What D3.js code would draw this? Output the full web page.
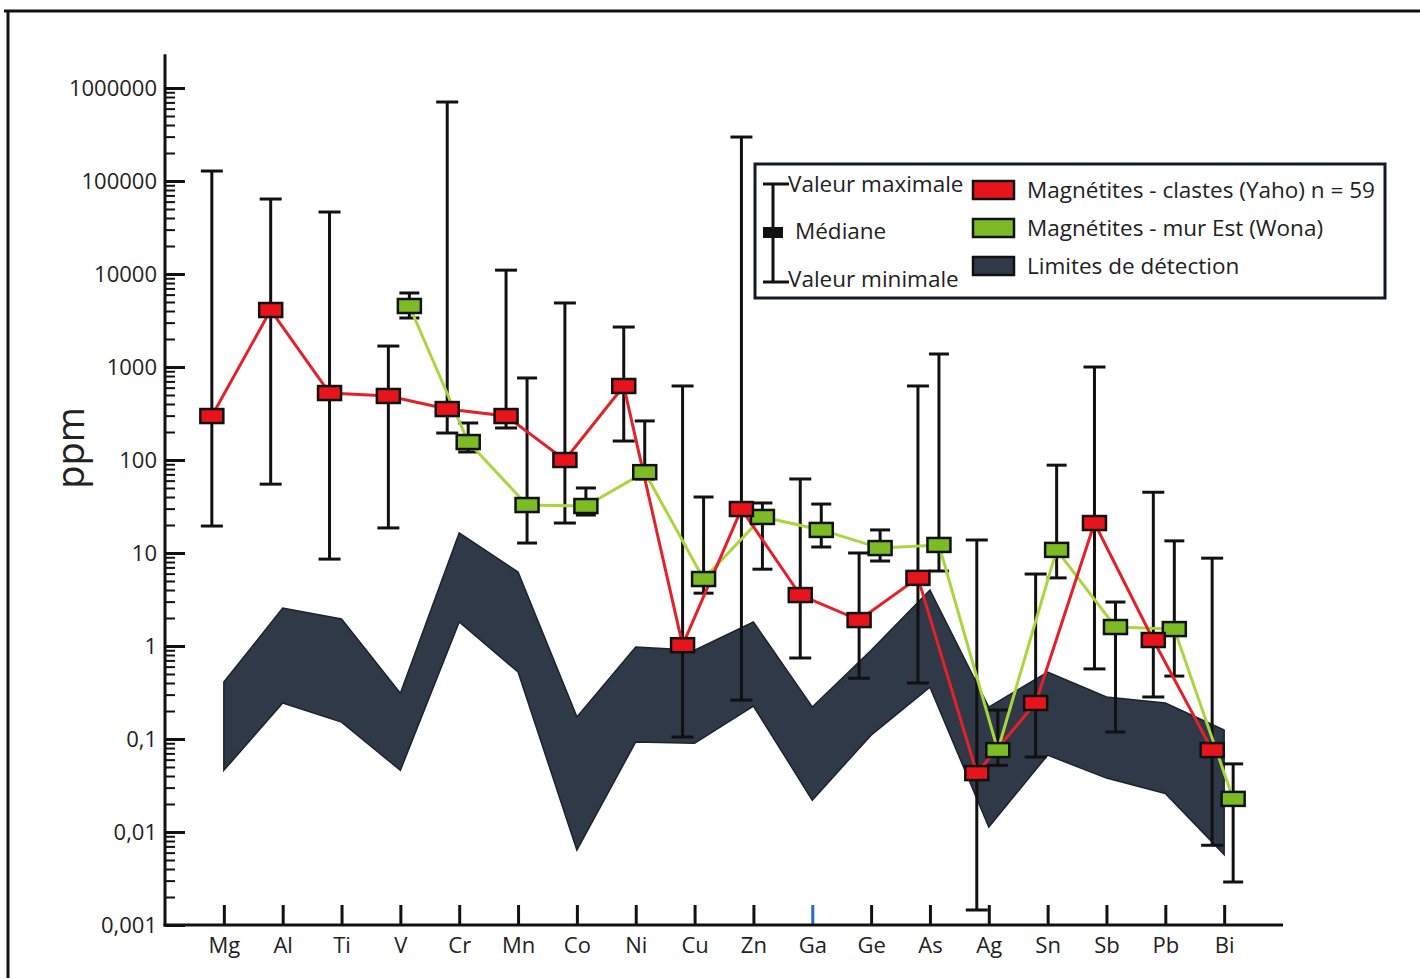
<!DOCTYPE html>
<html><head><meta charset="utf-8">
<script src="https://cdn.jsdelivr.net/npm/d3@7/dist/d3.min.js"></script>
<style>
html,body{margin:0;padding:0;background:#fff;}
svg{display:block;font-family:"Open Sans",sans-serif;}
</style></head>
<body>
<svg id="chart" width="1420" height="978"></svg>
<script>
const elements = ["Mg","Al","Ti","V","Cr","Mn","Co","Ni","Cu","Zn","Ga","Ge","As","Ag","Sn","Sb","Pb","Bi"];
const yAxisTicks = [0.001,0.01,0.1,1,10,100,1000,10000,100000,1000000];
const yAxisLabels = ["0,001","0,01","0,1","1","10","100","1000","10000","100000","1000000"];

// Magnétites - clastes (Yaho) n = 59
const yahoMedian = [297,4100,525,488,353,297,100,625,1.02,29.7,3.53,1.9,5.4,0.043,0.244,21,1.16,0.076];
const yahoMax    = [128000,64000,46400,1680,707000,11000,4880,2690,625,297000,62.5,10,625,13.8,5.94,1000,45,8.8];
const yahoMin    = [19.5,55,8.6,18.6,195,221,21,160,0.105,0.262,0.743,0.45,0.4,0.00145,0.064,0.567,0.283,0.0072];

// Magnétites - mur Est (Wona)
const wonaMedian = [null,null,null,4530,156,32.8,32,74,5.25,24.4,17.7,11.3,12.2,0.076,10.8,1.6,1.52,0.0227];
const wonaMax    = [null,null,null,6250,250,762,50,263,40,34.5,33.6,17.7,1380,0.205,88,2.97,13.5,0.054];
const wonaMin    = [null,null,null,3365,122,12.8,25.6,62.5,3.7,6.7,11.6,8.2,6.4,0.052,5.4,0.119,0.475,0.0029];

// Limites de détection
const detUpper = [0.41,2.56,1.95,0.31,16.4,6.25,0.173,0.975,0.9,1.81,0.221,0.9,4.0,0.22,0.525,0.283,0.244,0.125];
const detLower = [0.046,0.244,0.152,0.046,1.81,0.525,0.0064,0.093,0.09,0.226,0.022,0.11,0.36,0.0113,0.067,0.038,0.026,0.0057];

const legendLeft = ["Valeur maximale","Médiane","Valeur minimale"];
const legendRight = ["Magnétites - clastes (Yaho) n = 59","Magnétites - mur Est (Wona)","Limites de détection"];

const RED = "#e8141c", REDLINE = "#e4202a", GREEN = "#7cbb24", GREENLINE = "#a9d63c", DARK = "#2f3947";

const svg = d3.select("#chart");

// frame
svg.append("line").attr("x1",4).attr("x2",1420).attr("y1",11).attr("y2",11).attr("stroke","#111").attr("stroke-width",3);
svg.append("line").attr("x1",8).attr("x2",8).attr("y1",10).attr("y2",978).attr("stroke","#111").attr("stroke-width",3);

const x = d3.scalePoint().domain(elements).range([165,1283]).padding(1);
const y = d3.scaleLog().domain([0.001,1000000]).range([925,88]);
const yTop = y(2.3e6);

const g = svg.append("g");

// detection band
const band = elements.map((e,i)=>[x(e),y(detUpper[i])]).concat(elements.map((e,i)=>[x(e),y(detLower[i])]).reverse());
g.append("path").attr("d", d3.line()(band) + "Z").attr("fill",DARK).attr("stroke","#1d232c").attr("stroke-width",1.5);

// minor ticks
const minor = [];
for (let k=-3;k<6;k++) for (let m=2;m<=9;m++) minor.push(m*Math.pow(10,k));
const minorAxis = d3.axisLeft(y).tickValues(minor).tickSize(-10).tickFormat("");
const gm = svg.append("g").attr("transform","translate(165,0)").call(minorAxis);
gm.select(".domain").remove();
gm.selectAll(".tick line").attr("stroke","#111").attr("stroke-width",2);

// major y axis
const yAxis = d3.axisLeft(y).tickValues(yAxisTicks).tickSize(-20).tickPadding(8)
  .tickFormat((d,i)=>yAxisLabels[i]);
const gy = svg.append("g").attr("transform","translate(165,0)").call(yAxis);
gy.select(".domain").remove();
gy.selectAll(".tick line").attr("stroke","#111").attr("stroke-width",3);
gy.selectAll(".tick text").attr("font-size",22).attr("fill","#222").attr("font-family","Open Sans");
svg.append("line").attr("x1",165).attr("x2",165).attr("y1",yTop).attr("y2",926.5).attr("stroke","#111").attr("stroke-width",3);

// x axis
const xAxis = d3.axisBottom(x).tickSize(-20).tickPadding(12);
const gx = svg.append("g").attr("transform","translate(0,925)").call(xAxis);
gx.select(".domain").remove();
gx.selectAll(".tick line").attr("stroke",d=>d==="Ga"?"#1c6fc4":"#111").attr("stroke-width",3);
gx.selectAll(".tick text").attr("font-size",22).attr("fill","#222").attr("font-family","Open Sans");
svg.append("line").attr("x1",163.5).attr("x2",1283).attr("y1",925).attr("y2",925).attr("stroke","#111").attr("stroke-width",3);

// y label
svg.append("text").attr("transform","translate(84,448) rotate(-90)").attr("text-anchor","middle")
  .attr("font-size",38).attr("fill","#222").text("ppm");

const RED_OFF = -12, GREEN_OFF = 9;

function drawSeries(med, mx, mn, off, capW, fill, lineCol, rectW, rectH) {
  const idx = elements.map((e,i)=>i).filter(i=>med[i]!==null);
  const gs = g.append("g");
  idx.forEach(i=>{
    const cx = x(elements[i])+off;
    gs.append("line").attr("x1",cx).attr("x2",cx).attr("y1",y(mx[i])).attr("y2",y(mn[i])).attr("stroke","#111").attr("stroke-width",3);
    gs.append("line").attr("x1",cx-capW/2).attr("x2",cx+capW/2).attr("y1",y(mx[i])).attr("y2",y(mx[i])).attr("stroke","#111").attr("stroke-width",3);
    gs.append("line").attr("x1",cx-capW/2).attr("x2",cx+capW/2).attr("y1",y(mn[i])).attr("y2",y(mn[i])).attr("stroke","#111").attr("stroke-width",3);
  });
  return {idx, off, fill, lineCol, rectW, rectH, med};
}
const sR = drawSeries(yahoMedian,yahoMax,yahoMin,RED_OFF,22,RED,REDLINE,23,14);
const sG = drawSeries(wonaMedian,wonaMax,wonaMin,GREEN_OFF,20,GREEN,GREENLINE,23,14);

function drawLine(s){
  const pts = s.idx.map(i=>[x(elements[i])+s.off, y(s.med[i])]);
  g.append("path").attr("d",d3.line()(pts)).attr("fill","none").attr("stroke",s.lineCol).attr("stroke-width",3);
}
function drawMarks(s){
  s.idx.forEach(i=>{
    const cx = x(elements[i])+s.off, cy = y(s.med[i]);
    g.append("rect").attr("x",cx-s.rectW/2).attr("y",cy-s.rectH/2).attr("width",s.rectW).attr("height",s.rectH)
      .attr("fill",s.fill).attr("stroke","#111").attr("stroke-width",2.5);
  });
}
drawLine(sG); drawLine(sR);
drawMarks(sG); drawMarks(sR);

// legend
const lg = svg.append("g");
lg.append("rect").attr("x",755).attr("y",164).attr("width",630).attr("height",134).attr("fill","#fff").attr("stroke","#111a2a").attr("stroke-width",3);
lg.append("line").attr("x1",773).attr("x2",773).attr("y1",184).attr("y2",282).attr("stroke","#111").attr("stroke-width",3);
lg.append("line").attr("x1",763).attr("x2",789).attr("y1",184).attr("y2",184).attr("stroke","#111").attr("stroke-width",3);
lg.append("line").attr("x1",763).attr("x2",789).attr("y1",282).attr("y2",282).attr("stroke","#111").attr("stroke-width",3);
lg.append("rect").attr("x",763).attr("y",227).attr("width",20).attr("height",11).attr("fill","#111");
const leftX = [788,795,788], rowY = [192,239,287];
legendLeft.forEach((t,i)=>{
  lg.append("text").attr("x",leftX[i]).attr("y",rowY[i]).attr("font-size",22.5).attr("fill","#222").text(t);
});
const swCols = [RED,GREEN,DARK], swY = [181,219,257];
legendRight.forEach((t,i)=>{
  lg.append("rect").attr("x",973).attr("y",swY[i]).attr("width",41).attr("height",18).attr("fill",swCols[i]).attr("stroke","#111").attr("stroke-width",2.5);
  lg.append("text").attr("x",1027).attr("y",swY[i]+17).attr("font-size",22.5).attr("fill","#222").text(t);
});
</script>
</body></html>
